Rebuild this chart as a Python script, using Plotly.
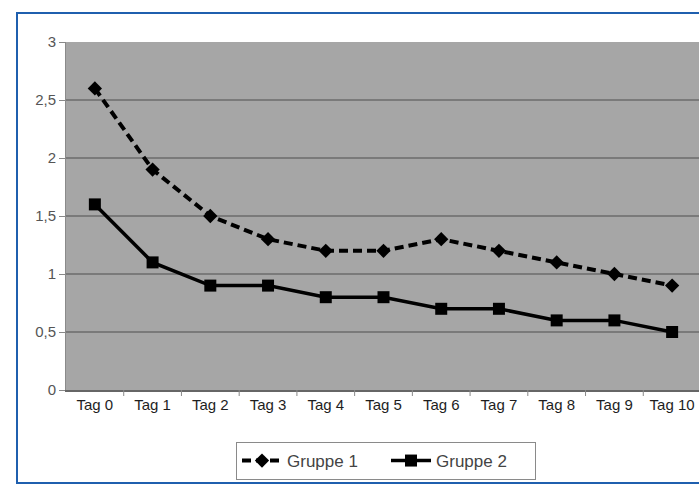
import plotly.graph_objects as go

categories = ["Tag 0", "Tag 1", "Tag 2", "Tag 3", "Tag 4", "Tag 5", "Tag 6", "Tag 7", "Tag 8", "Tag 9", "Tag 10"]
gruppe1 = [2.6, 1.9, 1.5, 1.3, 1.2, 1.2, 1.3, 1.2, 1.1, 1.0, 0.9]
gruppe2 = [1.6, 1.1, 0.9, 0.9, 0.8, 0.8, 0.7, 0.7, 0.6, 0.6, 0.5]
y_ticks = [0, 0.5, 1, 1.5, 2, 2.5, 3]
y_tick_labels = ["0", "0,5", "1", "1,5", "2", "2,5", "3"]

W, H = 699, 485
L, R, T, B = 66, 0, 42, 95
pw, ph = W - L - R, H - T - B

def px_x(x):
    return (x - L) / pw

def px_y(y):
    return (H - B - y) / ph

fig = go.Figure()
fig.add_trace(go.Scatter(
    x=list(range(len(categories))), y=gruppe1, name="Gruppe 1", mode="lines+markers",
    line=dict(color="black", width=4, dash="9px,5px"),
    marker=dict(symbol="diamond", size=11, color="black"),
))
fig.add_trace(go.Scatter(
    x=list(range(len(categories))), y=gruppe2, name="Gruppe 2", mode="lines+markers",
    line=dict(color="black", width=3.5),
    marker=dict(symbol="square", size=12, color="black"),
))

fig.update_layout(
    width=W, height=H,
    margin=dict(l=L, r=R, t=T, b=B, pad=0, autoexpand=False),
    paper_bgcolor="white",
    plot_bgcolor="#a6a6a6",
    font=dict(family="Liberation Sans, Arial, sans-serif", color="#333333"),
    showlegend=True,
    legend=dict(
        orientation="h", x=px_x(386), xanchor="center", y=px_y(442), yanchor="top",
        bordercolor="#8a8a8a", borderwidth=1, bgcolor="white",
        font=dict(size=17, color="#444444"),
        itemwidth=40, entrywidth=94, entrywidthmode="pixels",
    ),
    xaxis=dict(
        range=[-0.5, 10.5 - 2 / 57.8],
        tickmode="array", tickvals=list(range(len(categories))), ticktext=categories,
        tickfont=dict(size=15, color="#1e1e1e"),
        showgrid=False, zeroline=False,
        showline=True, linecolor="#666666", linewidth=2,
        ticks="", fixedrange=True, automargin=False,
    ),
    yaxis=dict(
        range=[0, 3],
        tickmode="array", tickvals=y_ticks, ticktext=y_tick_labels,
        tickfont=dict(size=15, color="#555555"),
        showgrid=True, gridcolor="#7a7a7a", gridwidth=2,
        zeroline=False,
        showline=True, linecolor="#8a8a8a", linewidth=1,
        ticks="outside", ticklen=6, tickcolor="#888888", automargin=False,
    ),
    shapes=[
        # category separator tick marks on x axis
        *[dict(type="line", xref="x", yref="paper", x0=i + 0.5, x1=i + 0.5,
               y0=0, y1=-6 / ph, line=dict(color="#888888", width=1))
          for i in range(len(categories) - 1)],
        # blue outer frame
        dict(type="rect", xref="paper", yref="paper",
             x0=px_x(17), x1=px_x(720), y0=px_y(483), y1=px_y(13),
             line=dict(color="#1f5fae", width=2), layer="below"),
    ],
)

fig.write_html(
    "out.html",
    config={"displayModeBar": False},
    post_script="document.body.style.margin='0';document.body.style.overflow='hidden';",
)
